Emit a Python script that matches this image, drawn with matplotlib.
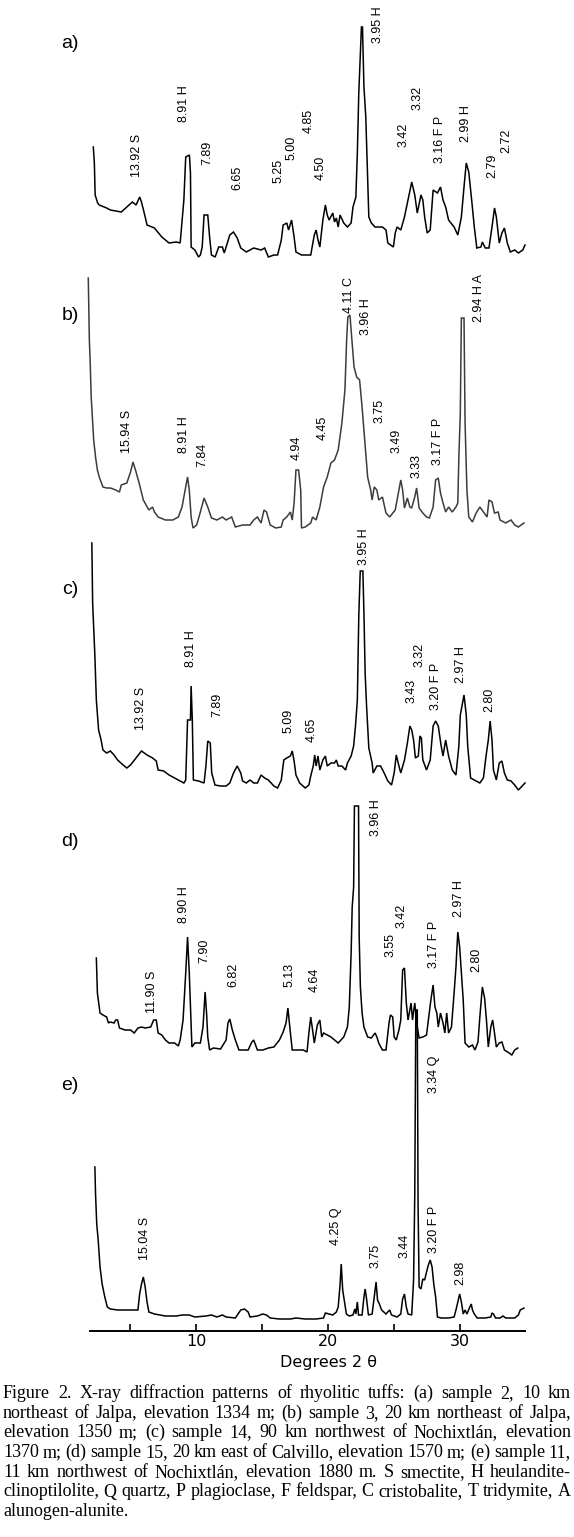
import matplotlib
matplotlib.use("Agg")
import matplotlib.pyplot as plt
from matplotlib import font_manager

# ---- data: (2-theta in degrees, relative intensity) ----
a_data = [(2.22, 113), (2.30, 97), (2.36, 65), (2.55, 57), (2.67, 55), (3.23, 52), (3.51, 50), (4.34, 48),
          (4.76, 53), (5.18, 58), (5.46, 55), (5.73, 63), (5.87, 58), (6.15, 43), (6.29, 35), (6.85, 32),
          (7.41, 23), (7.96, 17), (8.52, 18), (8.80, 17), (9.08, 60), (9.22, 103), (9.50, 105), (9.58, 87),
          (9.63, 13), (9.91, 10), (10.19, 3), (10.33, 5), (10.47, 13), (10.61, 45), (10.89, 45), (11.03, 23),
          (11.17, 5), (11.45, 3), (11.72, 13), (12.00, 13), (12.14, 7), (12.56, 25), (12.84, 28), (13.12, 22),
          (13.39, 12), (13.81, 8), (14.37, 12), (14.93, 10), (15.20, 12), (15.48, 3), (15.90, 5), (16.18, 5),
          (16.46, 20), (16.60, 35), (16.88, 37), (17.01, 30), (17.24, 40), (17.43, 23), (17.57, 8), (17.99, 5),
          (18.69, 5), (18.96, 25), (19.10, 30), (19.24, 20), (19.38, 13), (19.61, 40), (19.80, 55), (19.94, 45),
          (20.08, 40), (20.36, 47), (20.49, 38), (20.63, 42), (20.77, 33), (20.91, 45), (21.19, 37), (21.47, 33),
          (21.75, 37), (21.89, 53), (22.11, 63), (22.22, 107), (22.33, 167), (22.44, 203), (22.53, 233),
          (22.61, 233), (22.72, 173), (22.86, 143), (22.95, 103), (23.09, 43), (23.28, 37), (23.56, 33),
          (24.12, 33), (24.39, 30), (24.53, 17), (24.95, 13), (25.09, 27), (25.23, 33), (25.51, 30), (25.79, 43),
          (26.06, 60), (26.34, 78), (26.57, 65), (26.76, 47), (27.04, 65), (27.18, 60), (27.32, 43), (27.51, 27),
          (27.74, 30), (27.96, 70), (28.29, 67), (28.52, 73), (28.71, 60), (28.91, 53), (29.13, 40), (29.55, 33),
          (29.83, 25), (30.10, 43), (30.30, 73), (30.47, 97), (30.66, 88), (30.88, 60), (31.08, 33), (31.27, 12),
          (31.58, 13), (31.69, 18), (31.91, 12), (32.19, 12), (32.42, 33), (32.61, 52), (32.75, 43), (32.97, 17),
          (33.17, 27), (33.36, 32), (33.58, 17), (33.81, 8), (34.14, 10), (34.42, 7), (34.75, 10), (34.92, 15)]

b_data = [(1.84, 254), (1.92, 192), (1.98, 172), (2.06, 135), (2.25, 92), (2.39, 75), (2.53, 62), (2.67, 55),
          (2.95, 45), (3.23, 44), (3.51, 44), (3.92, 42), (4.20, 40), (4.34, 47), (4.76, 49), (5.04, 60),
          (5.23, 70), (5.46, 60), (5.73, 47), (6.01, 32), (6.43, 22), (6.71, 25), (6.85, 20), (7.13, 15),
          (7.68, 12), (8.24, 12), (8.66, 15), (8.94, 25), (9.22, 45), (9.36, 55), (9.49, 42), (9.63, 15),
          (9.77, 4), (10.05, 7), (10.33, 20), (10.61, 34), (10.89, 25), (11.17, 14), (11.58, 12), (12.00, 15),
          (12.28, 12), (12.70, 15), (12.98, 5), (13.53, 7), (14.09, 7), (14.37, 12), (14.65, 15), (14.93, 9),
          (15.15, 22), (15.34, 20), (15.62, 7), (16.04, 4), (16.46, 5), (16.60, 12), (16.87, 15), (17.15, 20),
          (17.29, 12), (17.43, 29), (17.57, 62), (17.77, 62), (17.93, 42), (17.99, 4), (18.27, 5), (18.69, 9),
          (18.83, 15), (19.10, 12), (19.38, 25), (19.66, 45), (19.94, 55), (20.22, 69), (20.49, 72), (20.77, 82),
          (21.05, 109), (21.28, 142), (21.41, 192), (21.50, 215), (21.66, 217), (21.83, 189), (21.97, 165),
          (22.17, 155), (22.39, 152), (22.58, 125), (22.78, 92), (23.00, 55), (23.23, 42), (23.34, 32),
          (23.50, 45), (23.70, 42), (23.84, 32), (24.12, 35), (24.39, 19), (24.67, 15), (25.09, 22), (25.37, 42),
          (25.51, 52), (25.65, 42), (25.79, 24), (26.01, 34), (26.20, 25), (26.34, 24), (26.57, 35), (26.71, 44),
          (26.90, 24), (27.18, 19), (27.46, 15), (27.68, 14), (27.96, 25), (28.15, 52), (28.35, 54), (28.52, 39),
          (28.71, 29), (28.91, 20), (29.13, 25), (29.41, 20), (29.69, 25), (29.83, 29), (29.91, 75), (30.02, 119),
          (30.10, 214), (30.30, 214), (30.38, 109), (30.52, 42), (30.66, 15), (30.94, 10), (31.22, 19),
          (31.50, 25), (31.77, 20), (32.05, 15), (32.19, 32), (32.42, 30), (32.61, 19), (32.89, 20), (33.03, 12),
          (33.45, 9), (33.86, 12), (34.14, 7), (34.42, 5), (34.84, 9)]

c_data = [(2.11, 250), (2.17, 190), (2.34, 137), (2.45, 93), (2.62, 63), (2.81, 53), (2.95, 43), (3.23, 40),
          (3.51, 42), (3.79, 38), (4.06, 33), (4.48, 28), (4.76, 25), (5.04, 28), (5.46, 35), (5.87, 42),
          (6.29, 38), (6.71, 35), (6.99, 32), (7.13, 23), (7.55, 22), (7.96, 18), (8.38, 15), (8.80, 12),
          (9.08, 10), (9.22, 13), (9.36, 73), (9.58, 73), (9.63, 107), (9.72, 73), (9.80, 13), (10.19, 12),
          (10.61, 10), (10.75, 27), (10.89, 52), (11.08, 50), (11.19, 20), (11.44, 8), (11.86, 7), (12.28, 7),
          (12.56, 10), (12.84, 20), (13.12, 27), (13.39, 20), (13.53, 12), (13.81, 10), (14.09, 13), (14.37, 10),
          (14.65, 10), (14.93, 18), (15.20, 15), (15.48, 13), (15.90, 7), (16.18, 5), (16.46, 13), (16.65, 33),
          (16.87, 35), (17.15, 37), (17.29, 42), (17.43, 32), (17.57, 18), (17.85, 10), (18.27, 5), (18.55, 8),
          (18.69, 17), (18.88, 27), (18.99, 38), (19.10, 27), (19.24, 37), (19.38, 23), (19.61, 33), (19.80, 37),
          (19.94, 27), (20.22, 30), (20.49, 30), (20.63, 33), (20.77, 27), (21.05, 27), (21.33, 23), (21.47, 30),
          (21.75, 37), (21.94, 47), (22.08, 67), (22.22, 93), (22.33, 177), (22.44, 222), (22.64, 222),
          (22.72, 180), (22.81, 120), (22.92, 87), (23.09, 45), (23.34, 30), (23.42, 20), (23.70, 27), (23.98, 27),
          (24.25, 20), (24.53, 12), (24.81, 8), (25.01, 20), (25.17, 38), (25.37, 27), (25.51, 20), (25.79, 33),
          (26.01, 50), (26.20, 67), (26.34, 63), (26.48, 53), (26.62, 35), (26.84, 37), (26.96, 57), (27.07, 55),
          (27.18, 33), (27.46, 23), (27.74, 33), (27.96, 67), (28.15, 72), (28.35, 67), (28.57, 47), (28.71, 37),
          (28.91, 53), (29.13, 37), (29.41, 23), (29.69, 18), (29.91, 47), (30.02, 78), (30.30, 98), (30.47, 78),
          (30.58, 47), (30.80, 15), (31.22, 12), (31.50, 10), (31.77, 15), (31.97, 37), (32.14, 53), (32.28, 72),
          (32.42, 53), (32.53, 23), (32.75, 13), (32.97, 30), (33.17, 32), (33.36, 20), (33.58, 13), (33.86, 12),
          (34.14, 8), (34.42, 3), (34.70, 7), (34.92, 10)]

d_data = [(2.45, 97), (2.53, 62), (2.62, 53), (2.73, 42), (2.95, 40), (3.23, 38), (3.37, 32), (3.51, 33),
          (3.79, 32), (3.92, 35), (4.06, 35), (4.20, 27), (4.62, 25), (5.04, 25), (5.32, 22), (5.60, 27),
          (5.87, 28), (6.15, 27), (6.57, 28), (6.79, 35), (6.99, 35), (7.13, 22), (7.41, 20), (7.68, 15),
          (7.96, 12), (8.38, 12), (8.66, 9), (8.80, 15), (9.02, 35), (9.22, 82), (9.36, 118), (9.49, 82),
          (9.58, 48), (9.69, 8), (9.91, 12), (10.33, 12), (10.53, 28), (10.69, 63), (10.80, 42), (10.89, 18),
          (11.03, 5), (11.31, 7), (11.86, 6), (12.28, 15), (12.42, 32), (12.56, 36), (12.75, 25), (12.98, 15),
          (13.25, 5), (13.53, 5), (13.95, 5), (14.23, 13), (14.37, 15), (14.65, 5), (15.06, 5), (15.48, 7),
          (15.90, 8), (16.32, 15), (16.60, 23), (16.82, 32), (16.96, 47), (17.15, 22), (17.29, 5), (17.71, 5),
          (18.13, 5), (18.41, 3), (18.55, 22), (18.69, 38), (18.83, 25), (18.96, 12), (19.19, 30), (19.38, 35),
          (19.52, 18), (19.66, 22), (19.94, 20), (20.22, 18), (20.49, 15), (20.77, 12), (21.19, 18), (21.47, 28),
          (21.61, 48), (21.75, 102), (21.83, 148), (21.94, 168), (22.00, 249), (22.31, 249), (22.36, 118),
          (22.45, 68), (22.58, 42), (22.72, 28), (23.00, 18), (23.28, 17), (23.56, 22), (23.70, 18), (23.84, 12),
          (24.12, 5), (24.39, 5), (24.62, 32), (24.73, 40), (24.90, 38), (25.01, 18), (25.17, 15), (25.37, 25),
          (25.51, 35), (25.65, 85), (25.79, 87), (25.93, 52), (26.06, 35), (26.29, 52), (26.40, 35), (26.57, 52),
          (26.76, 28), (26.90, 17), (27.18, 18), (27.46, 20), (27.60, 35), (27.79, 55), (27.96, 70), (28.10, 48),
          (28.24, 42), (28.35, 28), (28.52, 42), (28.71, 32), (28.85, 22), (28.99, 42), (29.13, 22), (29.35, 28),
          (29.55, 62), (29.69, 88), (29.83, 123), (29.97, 108), (30.10, 82), (30.24, 55), (30.38, 12), (30.66, 8),
          (30.94, 10), (31.13, 5), (31.36, 13), (31.50, 38), (31.69, 68), (31.86, 57), (32.00, 35), (32.14, 8),
          (32.33, 28), (32.47, 35), (32.61, 22), (32.75, 8), (32.97, 12), (33.17, 13), (33.36, 5), (33.72, 2),
          (33.92, 0), (34.14, 5), (34.37, 7)]

e_data = [(2.34, 155), (2.39, 128), (2.48, 98), (2.59, 82), (2.73, 55), (2.89, 38), (3.09, 25), (3.28, 15),
          (3.51, 13), (4.06, 12), (4.76, 12), (5.32, 12), (5.60, 12), (5.73, 28), (5.87, 38), (6.01, 45),
          (6.15, 35), (6.29, 20), (6.43, 10), (6.85, 8), (7.68, 6), (8.52, 6), (8.94, 7), (9.49, 7), (9.91, 5),
          (10.75, 6), (11.17, 7), (11.58, 5), (12.00, 7), (12.28, 5), (12.98, 4), (13.39, 12), (13.67, 13),
          (13.95, 10), (14.09, 5), (14.65, 6), (15.06, 8), (15.34, 7), (15.62, 4), (16.32, 3), (17.15, 3),
          (17.57, 4), (18.27, 3), (19.10, 3), (19.66, 4), (19.80, 9), (20.08, 8), (20.36, 7), (20.63, 10),
          (20.77, 15), (20.91, 37), (21.00, 58), (21.11, 32), (21.25, 20), (21.39, 8), (21.61, 6), (21.89, 7),
          (22.03, 13), (22.11, 8), (22.22, 20), (22.31, 7), (22.58, 7), (22.72, 25), (22.81, 33), (22.92, 23),
          (23.06, 7), (23.34, 8), (23.50, 25), (23.64, 40), (23.75, 22), (23.89, 18), (24.06, 12), (24.39, 8),
          (24.67, 12), (24.81, 7), (25.23, 5), (25.51, 8), (25.65, 23), (25.79, 28), (25.93, 15), (26.06, 8),
          (26.34, 7), (26.48, 42), (26.57, 127), (26.65, 312), (26.76, 312), (26.82, 118), (26.90, 35),
          (27.04, 33), (27.18, 43), (27.32, 42), (27.46, 50), (27.60, 57), (27.74, 62), (27.88, 55), (28.01, 38),
          (28.15, 25), (28.29, 5), (28.57, 4), (29.13, 4), (29.55, 5), (29.69, 12), (29.83, 20), (29.97, 28),
          (30.10, 20), (30.24, 8), (30.38, 12), (30.52, 8), (30.74, 15), (30.85, 18), (30.94, 12), (31.08, 8),
          (31.30, 4), (31.91, 4), (32.33, 5), (32.42, 9), (32.53, 8), (32.69, 4), (33.03, 4), (33.25, 6),
          (33.45, 4), (34.14, 4), (34.42, 7), (34.56, 12), (34.70, 13), (34.84, 14)]

# peak labels: (text, 2-theta, height above the pattern baseline)
a_labels = [("13.92 S", 5.5, 83), ("8.91 H", 9.1, 138), ("7.89", 10.85, 95), ("6.65", 13.1, 70),
            ("5.25", 16.25, 77), ("5.00", 17.2, 100), ("4.85", 18.5, 127), ("4.50", 19.45, 80),
            ("3.95 H", 23.8, 217), ("3.42", 25.75, 113), ("3.32", 26.8, 150), ("3.16 F P", 28.5, 97),
            ("2.99 H", 30.45, 118), ("2.79", 32.45, 82), ("2.72", 33.5, 107)]
b_labels = [("15.94 S", 4.77, 79), ("8.91 H", 9.08, 79), ("7.84", 10.5, 65), ("4.94", 17.6, 72),
            ("4.45", 19.6, 92), ("4.11 C", 21.6, 219), ("3.96 H", 22.9, 197), ("3.75", 23.9, 109),
            ("3.49", 25.2, 79), ("3.33", 26.7, 54), ("3.17 F P", 28.3, 67), ("2.94 H A", 31.4, 210)]
c_labels = [("13.92 S", 5.87, 63), ("8.91 H", 9.6, 126), ("7.89", 11.6, 76), ("5.09", 17.0, 60),
            ("4.65", 18.8, 51), ("3.95 H", 22.7, 228), ("3.43", 26.3, 90), ("3.32", 26.9, 126),
            ("3.20 F P", 28.2, 83), ("2.97 H", 30.1, 110), ("2.80", 32.2, 81)]
d_labels = [("11.90 S", 6.7, 42), ("8.90 H", 9.1, 132), ("7.90", 10.6, 92), ("6.82", 12.8, 68),
            ("5.13", 17.1, 68), ("4.64", 19.0, 63), ("3.96 H", 23.6, 219), ("3.55", 24.7, 98),
            ("3.42", 25.6, 127), ("3.17 F P", 28.0, 87), ("2.97 H", 29.9, 138), ("2.80", 31.2, 83)]
e_labels = [("15.04 S", 6.15, 62), ("4.25 Q", 20.6, 77), ("3.75", 23.6, 54), ("3.44", 25.8, 64),
            ("3.34 Q", 28.0, 229), ("3.20 F P", 28.0, 69), ("2.98", 30.0, 37)]

panel_names = ["a)", "b)", "c)", "d)", "e)"]
tick_values = [5, 10, 15, 20, 25, 30]
tick_text = ["", "10", "", "20", "", "30"]

caption_lines = [
    "Figure 2. X-ray diffraction patterns of rhyolitic tuffs: (a) sample 2, 10 km",
    "northeast of Jalpa, elevation 1334 m; (b) sample 3, 20 km northeast of Jalpa,",
    "elevation 1350 m; (c) sample 14, 90 km northwest of Nochixtlán, elevation",
    "1370 m; (d) sample 15, 20 km east of Calvillo, elevation 1570 m; (e) sample 11,",
    "11 km northwest of Nochixtlán, elevation 1880 m. S smectite, H heulandite-",
    "clinoptilolite, Q quartz, P plagioclase, F feldspar, C cristobalite, T tridymite, A",
    "alunogen-alunite.",
]

# ---- layout ----
W, H = 574, 1537
fig = plt.figure(figsize=(W / 100, H / 100), dpi=100)
ax = fig.add_axes([90 / W, (H - 1331) / H, 435 / W, 1331 / H])
ax.set_xlim(1.97, 34.92)
ax.set_ylim(0, 1331)

installed = {f.name for f in font_manager.fontManager.ttflist}
if "Liberation Sans Narrow" in installed:
    lab_family, lab_size = "Liberation Sans Narrow", 10.5
else:
    lab_family, lab_size = "Liberation Sans", 9

panels = [(a_data, a_labels, 1071, "black"),
          (b_data, b_labels, 799, "#3c3c3c"),
          (c_data, c_labels, 538, "black"),
          (d_data, d_labels, 276, "black"),
          (e_data, e_labels, 9, "black")]
label_y = [43, 315, 590, 842, 1085]  # panel letter centres, px from top

for (data, labels, offset, col), name, ly in zip(panels, panel_names, label_y):
    tt = [p[0] for p in data]
    inten = [offset + p[1] for p in data]
    ax.plot(tt, inten, color=col, lw=1.1, clip_on=False, solid_joinstyle="miter")
    for txt, x, h in labels:
        ax.text(x, offset + h, txt, rotation=90, ha="center", va="bottom",
                fontsize=lab_size, family=lab_family)
    fig.text(70 / W, 1 - ly / H, name, ha="center", va="center", fontsize=14, family="Liberation Sans")

for s in ["top", "left", "right"]:
    ax.spines[s].set_visible(False)
ax.spines["bottom"].set_linewidth(1.4)
ax.set_yticks([])
ax.set_xticks(tick_values)
ax.set_xticklabels(tick_text, fontsize=11.5, family="DejaVu Sans")
ax.tick_params(axis="x", direction="in", length=5, width=1.2, pad=2)
fig.text(328 / W, 1 - 1367 / H, "Degrees 2 θ", ha="center", va="baseline", fontsize=11.5, family="DejaVu Sans")

# ---- justified caption ----
renderer = fig.canvas.get_renderer()
x_left, x_right = 3, 571
cap_size = 13.0
for i, line in enumerate(caption_lines):
    yb = 1 - (1398 + 19.7 * i) / H
    words = line.split(" ")
    objs = [fig.text(0, yb, w, ha="left", va="baseline", fontsize=cap_size, family="Liberation Serif")
            for w in words]
    widths = [o.get_window_extent(renderer).width for o in objs]
    if i == len(caption_lines) - 1:
        gap = renderer.points_to_pixels(cap_size) * 0.25
    else:
        gap = (x_right - x_left - sum(widths)) / (len(words) - 1)
    x = x_left
    for o, w in zip(objs, widths):
        o.set_x(x / W)
        x += w + gap

fig.savefig("out.png", dpi=100)
